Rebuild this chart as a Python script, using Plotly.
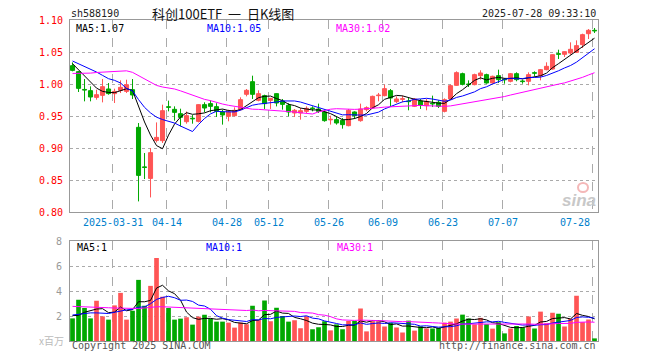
import numpy as np
import pandas as pd
import plotly.graph_objects as go

# ---------------- data ----------------
dates = [
    "03-20", "03-21", "03-24", "03-25", "03-26", "03-27", "03-28", "03-31",
    "04-01", "04-02", "04-03", "04-07", "04-08", "04-09", "04-10", "04-11", "04-14", "04-15",
    "04-16", "04-17", "04-18", "04-21", "04-22", "04-23", "04-24", "04-25", "04-28", "04-29", "04-30",
    "05-06", "05-07", "05-08", "05-09", "05-12", "05-13", "05-14", "05-15", "05-16", "05-19",
    "05-20", "05-21", "05-22", "05-23", "05-26", "05-27", "05-28", "05-29", "05-30",
    "06-03", "06-04", "06-05", "06-06", "06-09", "06-10", "06-11", "06-12", "06-13", "06-16",
    "06-17", "06-18", "06-19", "06-20", "06-23", "06-24", "06-25", "06-26", "06-27", "06-30",
    "07-01", "07-02", "07-03", "07-04", "07-07", "07-08", "07-09", "07-10", "07-11", "07-14",
    "07-15", "07-16", "07-17", "07-18", "07-21", "07-22", "07-23", "07-24", "07-25", "07-28",
]

open_ = [1.0286, 1.0193, 0.9915, 0.9896, 0.9791, 0.9823, 0.9922, 0.9849, 0.9901, 0.9885,
         0.9911, 0.9323, 0.8705, 0.8525, 0.9119, 0.9114, 0.9645, 0.9604, 0.9536, 0.9411,
         0.9465, 0.9416, 0.9677, 0.9693, 0.9646, 0.9563, 0.9495, 0.9505, 0.9599, 0.9839,
         1.0036, 0.9745, 0.9818, 0.9745, 0.9849, 0.9734, 0.9667, 0.9547, 0.9547, 0.9573,
         0.9625, 0.9609, 0.9563, 0.9440, 0.9443, 0.9432, 0.9349, 0.9563, 0.9427, 0.9599,
         0.9625, 0.9818, 0.9818, 0.9896, 0.9724, 0.9760, 0.9734, 0.9651, 0.9734, 0.9661,
         0.9698, 0.9714, 0.9573, 0.9766, 0.9979, 1.0161, 1.0000, 0.9990, 1.0130, 1.0146,
         1.0016, 1.0130, 1.0075, 1.0042, 1.0161, 1.0047, 1.0042, 1.0177, 1.0130, 1.0224,
         1.0234, 1.0474, 1.0464, 1.0484, 1.0495, 1.0615, 1.0786, 1.0839]
high = [1.0338, 1.0203, 1.0078, 0.9963, 0.9911, 1.0078, 1.0015, 0.9927, 1.0057, 1.0067,
        1.0078, 0.9390, 0.8921, 0.9000, 0.9400, 0.9677, 0.9740, 0.9651, 0.9614, 0.9570,
        0.9515, 0.9680, 0.9714, 0.9745, 0.9700, 0.9599, 0.9599, 0.9635, 0.9792, 0.9922,
        1.0130, 0.9901, 0.9833, 0.9780, 0.9850, 0.9766, 0.9700, 0.9610, 0.9625, 0.9651,
        0.9651, 0.9693, 0.9580, 0.9505, 0.9495, 0.9469, 0.9610, 0.9573, 0.9693, 0.9651,
        0.9818, 0.9860, 0.9990, 0.9922, 0.9807, 0.9818, 0.9781, 0.9781, 0.9766, 0.9766,
        0.9818, 0.9745, 0.9776, 0.9990, 1.0198, 1.0177, 1.0057, 1.0161, 1.0214, 1.0161,
        1.0130, 1.0224, 1.0094, 1.0172, 1.0182, 1.0068, 1.0182, 1.0198, 1.0234, 1.0339,
        1.0458, 1.0536, 1.0505, 1.0651, 1.0682, 1.0786, 1.0859, 1.0875]
low = [1.0198, 0.9875, 0.9729, 0.9729, 0.9755, 0.9713, 0.9833, 0.9703, 0.9859, 0.9859,
       0.9765, 0.8166, 0.8515, 0.8228, 0.9088, 0.9078, 0.9573, 0.9427, 0.9338, 0.9380,
       0.9380, 0.9400, 0.9557, 0.9557, 0.9484, 0.9365, 0.9417, 0.9495, 0.9589, 0.9807,
       0.9766, 0.9729, 0.9610, 0.9610, 0.9650, 0.9599, 0.9495, 0.9484, 0.9443, 0.9547,
       0.9573, 0.9547, 0.9411, 0.9365, 0.9365, 0.9302, 0.9339, 0.9453, 0.9411, 0.9573,
       0.9610, 0.9729, 0.9807, 0.9651, 0.9703, 0.9714, 0.9589, 0.9640, 0.9610, 0.9589,
       0.9640, 0.9625, 0.9557, 0.9755, 0.9974, 0.9979, 0.9953, 0.9979, 1.0068, 1.0005,
       1.0005, 1.0016, 1.0005, 1.0026, 1.0042, 1.0005, 0.9979, 1.0120, 1.0057, 1.0214,
       1.0224, 1.0391, 1.0422, 1.0458, 1.0484, 1.0562, 1.0703, 1.0797]
close = [1.0213, 0.9932, 0.9905, 0.9797, 0.9833, 0.9958, 0.9850, 0.9885, 0.9948, 0.9989,
         0.9828, 0.8572, 0.8695, 0.8927, 0.9166, 0.9583, 0.9635, 0.9557, 0.9479, 0.9505,
         0.9455, 0.9677, 0.9625, 0.9651, 0.9573, 0.9516, 0.9563, 0.9589, 0.9755, 0.9901,
         0.9839, 0.9849, 0.9693, 0.9776, 0.9703, 0.9682, 0.9563, 0.9589, 0.9583, 0.9620,
         0.9615, 0.9573, 0.9427, 0.9450, 0.9391, 0.9365, 0.9589, 0.9505, 0.9609, 0.9630,
         0.9807, 0.9828, 0.9927, 0.9781, 0.9766, 0.9771, 0.9724, 0.9766, 0.9667, 0.9729,
         0.9688, 0.9651, 0.9755, 0.9974, 1.0177, 0.9995, 0.9990, 1.0146, 1.0172, 1.0016,
         1.0120, 1.0068, 1.0065, 1.0161, 1.0068, 1.0037, 1.0146, 1.0167, 1.0224, 1.0276,
         1.0458, 1.0464, 1.0505, 1.0542, 1.0599, 1.0771, 1.0839, 1.0829]
# volume, millions of shares (x百万)
volume = [1.81, 3.30, 2.64, 1.81, 3.22, 1.97, 1.71, 2.85, 3.85, 1.71,
          2.42, 4.89, 2.82, 4.41, 6.64, 3.54, 2.64, 1.71, 1.79, 1.90,
          1.31, 1.95, 2.10, 1.79, 1.55, 1.55, 1.47, 1.07, 1.47, 1.34,
          2.82, 1.68, 3.24, 1.58, 2.66, 2.00, 1.55, 1.66, 1.02, 1.97,
          0.94, 1.10, 1.58, 0.85, 1.33, 0.94, 1.60, 1.60, 2.60, 0.77,
          1.58, 1.58, 1.16, 1.45, 1.08, 0.68, 1.63, 0.83, 1.18, 1.00,
          1.00, 1.05, 1.47, 1.55, 1.80, 2.11, 1.80, 1.33, 1.85, 1.35,
          0.99, 1.50, 0.61, 1.00, 1.20, 1.10, 1.96, 1.00, 2.35, 1.42,
          2.26, 2.18, 1.16, 1.79, 3.62, 1.51, 1.72, 0.21]

# moving-average values at the left edge (their windows start before the chart)
ma5_head = [1.0318, 1.0224, 1.0135, 1.0031]
ma10_head = [1.0359, 1.0318, 1.0276, 1.0234, 1.0187, 1.0135, 1.0083, 1.0057, 1.0016]
ma30_head = [1.0165, 1.0165, 1.0167, 1.0170, 1.0180, 1.0187, 1.0190, 1.0195, 1.0203, 1.0206,
             1.0182, 1.0132, 1.0072, 1.0020, 0.9978, 0.9953, 0.9938, 0.9922, 0.9893, 0.9860,
             0.9825, 0.9797, 0.9760, 0.9740, 0.9710, 0.9687, 0.9667, 0.9650, 0.9630]
vma5_head = [2.03, 2.05, 2.30, 2.40]
vma10_head = [2.08, 2.15, 2.22, 2.25, 2.25, 2.22, 2.20, 2.30, 2.42]
vma30_head = [2.77, 2.76, 2.74, 2.72, 2.70, 2.68, 2.66, 2.64, 2.62, 2.60,
              2.58, 2.60, 2.64, 2.70, 2.74, 2.74, 2.72, 2.70, 2.66, 2.62,
              2.60, 2.58, 2.56, 2.55, 2.54, 2.52, 2.51, 2.50, 2.49]

tick_dates = ["03-31", "04-14", "04-28", "05-12", "05-26", "06-09", "06-23", "07-07", "07-28"]
tick_labels = ["2025-03-31", "04-14", "04-28", "05-12", "05-26", "06-09", "06-23", "07-07", "07-28"]
price_ticks = [0.80, 0.85, 0.90, 0.95, 1.00, 1.05, 1.10]
vol_ticks = [2, 4, 6, 8]
ma_labels = ["MA5:1.07", "MA10:1.05", "MA30:1.02"]
vma_labels = ["MA5:1", "MA10:1", "MA30:1"]

# ---------------- derived ----------------
def moving_avg(values, n, head):
    s = pd.Series(values).rolling(n).mean().to_numpy()
    s[:len(head)] = head
    return s

ma5 = moving_avg(close, 5, ma5_head)
ma10 = moving_avg(close, 10, ma10_head)
ma30 = moving_avg(close, 30, ma30_head)
vma5 = moving_avg(volume, 5, vma5_head)
vma10 = moving_avg(volume, 10, vma10_head)
vma30 = moving_avg(volume, 30, vma30_head)

n = len(close)
xs = np.arange(n)
RED = "#FF5555"
GREEN = "#00A800"
up = [c >= o for o, c in zip(open_, close)]
colors = [RED if u else GREEN for u in up]

# ---------------- layout geometry ----------------
W, H = 660, 360
L, R, T, B = 70, 62, 20, 19
PW, PH = W - L - R, H - T - B
def px(x):
    return (x - L) / PW
def py(y):
    return (H - B - y) / PH

MONO = "DejaVu Sans Mono"
fig = go.Figure()

# wicks
for flag, col in ((True, RED), (False, GREEN)):
    wx, wy = [], []
    for i in range(n):
        if up[i] == flag:
            wx += [i, i, None]
            wy += [low[i], high[i], None]
    fig.add_trace(go.Scatter(x=wx, y=wy, mode="lines", line=dict(color=col, width=1),
                             xaxis="x", yaxis="y", hoverinfo="skip"))
# bodies
fig.add_trace(go.Bar(x=xs, y=[abs(c - o) for o, c in zip(open_, close)],
                     base=[min(o, c) for o, c in zip(open_, close)], width=0.68,
                     marker=dict(color=colors, line=dict(color=colors, width=1)),
                     xaxis="x", yaxis="y", hoverinfo="skip"))
# price MAs
for arr, col in ((ma5, "black"), (ma10, "#0000FF"), (ma30, "#FF00FF")):
    fig.add_trace(go.Scatter(x=xs, y=arr, mode="lines", line=dict(color=col, width=1),
                             xaxis="x", yaxis="y", hoverinfo="skip"))
# volume
fig.add_trace(go.Bar(x=xs, y=volume, width=0.78, marker=dict(color=colors, line=dict(width=0)),
                     xaxis="x2", yaxis="y2", hoverinfo="skip"))
for arr, col in ((vma5, "black"), (vma10, "#0000FF"), (vma30, "#FF00FF")):
    fig.add_trace(go.Scatter(x=xs, y=arr, mode="lines", line=dict(color=col, width=1),
                             xaxis="x2", yaxis="y2", hoverinfo="skip"))

grid_x = [dates.index(d) - 0.3 for d in tick_dates]
xcommon = dict(range=[-0.42, n - 0.42], showgrid=True, gridcolor="#AAAAAA", griddash="dash",
               gridwidth=1, tickvals=grid_x, showticklabels=False, ticks="",
               showline=True, mirror=True, linecolor="#999999", linewidth=1, zeroline=False,
               fixedrange=True)
dom_main = [py(212), 1.0]
dom_vol = [0.0, py(241)]
fig.update_layout(
    width=W, height=H, margin=dict(l=L, r=R, t=T, b=B, pad=0),
    paper_bgcolor="white", plot_bgcolor="white", showlegend=False, barmode="overlay",
    xaxis=dict(domain=[0, 1], anchor="y", **xcommon),
    xaxis2=dict(domain=[0, 1], anchor="y2", matches="x", **xcommon),
    yaxis=dict(domain=dom_main, anchor="x", range=[0.80, 1.10], tickvals=price_ticks,
               ticktext=[f"{v:.2f}" for v in price_ticks], tickfont=dict(family=MONO, size=10, color="#FF0000"),
               showgrid=True, gridcolor="#AAAAAA", griddash="dot", gridwidth=1, ticks="",
               ticklabelstandoff=4, showline=True, mirror=True, linecolor="#999999", zeroline=False),
    yaxis2=dict(domain=dom_vol, anchor="x2", range=[0, 8], tickvals=vol_ticks,
                ticktext=[str(v) for v in vol_ticks], tickfont=dict(family=MONO, size=10, color="#999999"),
                showgrid=True, gridcolor="#AAAAAA", griddash="dot", gridwidth=1, ticks="",
                ticklabelstandoff=5, showline=True, mirror=True, linecolor="#999999", zeroline=False),
)

ann = []
def text(x, y, s, color="black", size=10, xanchor="left", family=MONO, **kw):
    ann.append(dict(x=px(x), y=py(y), xref="paper", yref="paper", text=s, showarrow=False,
                    xanchor=xanchor, yanchor="middle", font=dict(family=family, size=size, color=color), **kw))

text(69, 13, "sh588190", "#222222")
text(150, 13, "科创100ETF\u00a0\u00a0一\u00a0\u00a0日K线图", "#111111", size=13, family="Noto Sans CJK SC")
text(598, 13, "2025-07-28 09:33:10", "#222222", xanchor="right")
for lab, x0, col in zip(ma_labels, (74, 205, 334), ("black", "#0000FF", "#FF00FF")):
    text(x0, 28, lab, col)
for lab, x0, col in zip(vma_labels, (75, 204, 335), ("black", "#0000FF", "#FF00FF")):
    text(x0, 247, lab, col)
for d, lab in zip(tick_dates, tick_labels):
    gx = L + (dates.index(d) - 0.3 + 0.42) * PW / n
    if d == tick_dates[-1]:
        text(gx - 1, 222, lab, "#0080CC", xanchor="right")
    else:
        text(gx, 222, lab, "#0080CC", xanchor="center")
text(66, 340, "x百万", "#BBBBBB", size=10, xanchor="right", family="Noto Sans CJK SC")
text(70, 346, "Copyright 2025 SINA.COM", "#555555")
text(598, 346, "http://finance.sina.com.cn", "#555555", xanchor="right")
# sina watermark
text(598, 200, "<b><i>sina</i></b>", "#C8C8C8", size=17, xanchor="right", family="Arial, Liberation Sans")
fig.update_layout(annotations=ann)
fig.add_shape(type="circle", xref="paper", yref="paper", x0=px(578), x1=px(588), y0=py(183), y1=py(192),
              line=dict(color="#F4B8B8", width=2), fillcolor="rgba(0,0,0,0)")

fig.write_html("out.html", config={"displayModeBar": False, "staticPlot": True},
               post_script="document.body.style.margin='0';document.body.style.overflow='hidden';")
